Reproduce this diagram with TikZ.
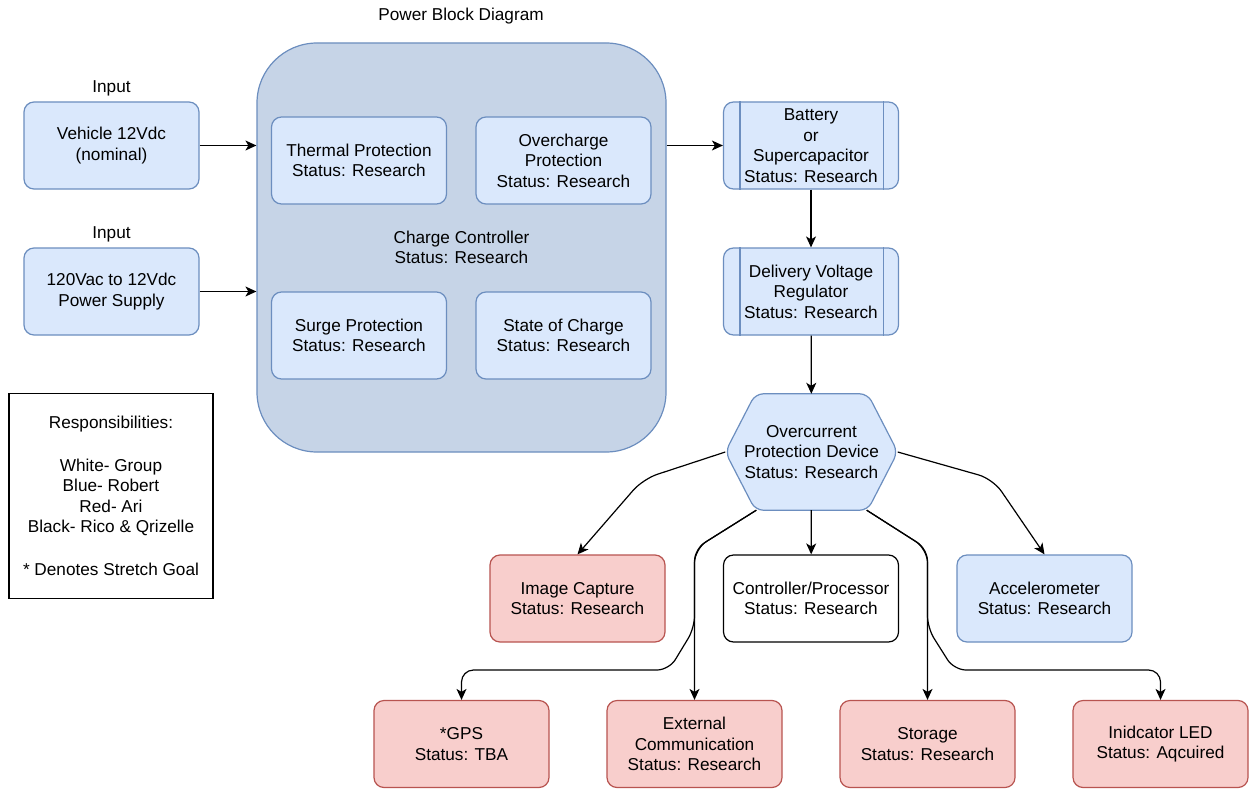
\documentclass[tikz,border=0pt]{standalone}
\usepackage{fontspec}
\setmainfont{Liberation Sans}
\usepackage{xcolor}
\usepackage{tikz}
\usetikzlibrary{arrows.meta,positioning,calc}
\definecolor{BlueFill}{HTML}{DAE8FC}
\definecolor{BlueLine}{HTML}{6C8EBF}
\definecolor{RedFill}{HTML}{F8CECC}
\definecolor{RedLine}{HTML}{B85450}
\definecolor{CtrlFill}{HTML}{C6D4E7}

\begin{document}
\begin{tikzpicture}[
  x=1pt, y=-1pt,
  font=\fontsize{17.2}{20.5}\selectfont,
  blk/.style={draw=BlueLine, fill=BlueFill, rounded corners=10pt, align=center, line width=1.2pt,
    minimum width=175pt, minimum height=87pt, inner sep=0pt},
  redblk/.style={blk, draw=RedLine, fill=RedFill},
  whiteblk/.style={blk, draw=black, fill=white},
  lbl/.style={align=center, inner sep=0pt},
  arrow/.style={-{Stealth[length=11pt,width=10pt,inset=3pt]}, line width=1.2pt}
]
\fill[white] (0,0) rectangle (1257,789);
\useasboundingbox (0,0) rectangle (1257,789);

\node[lbl] (title) at (461,16) {Power Block Diagram};

\node[lbl] (in1) at (111.5,88) {Input};
\node[blk] (vehicle) at (111.5,145.5) {Vehicle 12Vdc\\(nominal)};
\node[lbl] (in2) at (111.5,234) {Input};
\node[blk] (supply) at (111.5,291.5) {120Vac to 12Vdc\\Power Supply};

\node[blk, fill=CtrlFill, rounded corners=60pt, minimum width=409pt, minimum height=409pt]
  (cc) at (461.5,247.5) {Charge Controller\\Status: Research};
\node[blk] (thermal) at (359,160.5) {Thermal Protection\\Status: Research};
\node[blk] (overchg) at (563.5,160.5) {Overcharge\\Protection\\Status: Research};
\node[blk] (surge) at (359,335.5) {Surge Protection\\Status: Research};
\node[blk] (soc) at (563.5,335.5) {State of Charge\\Status: Research};

\node[blk] (batt) at (811,145.5) {Battery\\or\\Supercapacitor\\Status: Research};
\node[blk] (dvr) at (811,291.5) {Delivery Voltage\\Regulator\\Status: Research};
\draw[BlueLine, line width=1.2pt] ([xshift=17pt]batt.north west) -- ([xshift=17pt]batt.south west);
\draw[BlueLine, line width=1.2pt] ([xshift=-16pt]batt.north east) -- ([xshift=-16pt]batt.south east);
\draw[BlueLine, line width=1.2pt] ([xshift=17pt]dvr.north west) -- ([xshift=17pt]dvr.south west);
\draw[BlueLine, line width=1.2pt] ([xshift=-16pt]dvr.north east) -- ([xshift=-16pt]dvr.south east);

\node[lbl, minimum width=172pt, minimum height=116pt] (ocp) at (811.5,452) {};
\filldraw[draw=BlueLine, fill=BlueFill, line width=1.2pt, rounded corners=8pt]
  (ocp.west) -- ($(ocp.north west)+(30,0)$) -- ($(ocp.north east)+(-30,0)$) -- (ocp.east)
  -- ($(ocp.south east)+(-30,0)$) -- ($(ocp.south west)+(30,0)$) -- cycle;
\node[lbl] (ocptext) at (ocp) {Overcurrent\\Protection Device\\Status: Research};

\node[redblk] (img) at (577.5,598.5) {Image Capture\\Status: Research};
\node[whiteblk] (ctrl) at (811,598.5) {Controller/Processor\\Status: Research};
\node[blk] (acc) at (1044.5,598.5) {Accelerometer\\Status: Research};
\node[redblk] (gps) at (461.5,744) {*GPS\\Status: TBA};
\node[redblk] (ext) at (694.5,744) {External\\Communication\\Status: Research};
\node[redblk] (sto) at (927.5,744) {Storage\\Status: Research};
\node[redblk] (led) at (1160.5,744) {Inidcator LED\\Status: Aqcuired};

\node[draw=black, fill=white, line width=1.2pt, align=center, minimum width=204pt, minimum height=205pt, inner sep=0pt]
  (legend) at (111,496) {Responsibilities:\\[22pt]White- Group\\Blue- Robert\\Red- Ari\\Black- Rico \& Qrizelle\\[22pt]* Denotes Stretch Goal};

\draw[arrow] (vehicle) -- (vehicle -| cc.west);
\draw[arrow] (supply) -- (supply -| cc.west);
\draw[arrow] (batt -| cc.east) -- (batt);
\draw[arrow] (batt) -- (dvr);
\draw[arrow] (dvr) -- (ocp);
\draw[arrow] (ocp) -- (ctrl);
\draw[arrow, rounded corners=15pt] (ocp.west) -- (643,479) -- (img.north);
\draw[arrow, rounded corners=15pt] (ocp.east) -- (993,479) -- (acc.north);
\draw[arrow, rounded corners=14pt] ($(ocp.south west)+(31,0)$) -- (694.5,549) -- (ext.north);
\draw[arrow, rounded corners=12pt] ($(ocp.south west)+(31,0)$) -- (694.5,549) -- (694.5,628) -- (669,670) -- (461.5,670) -- (gps.north);
\draw[arrow, rounded corners=14pt] ($(ocp.south east)+(-31,0)$) -- (927.5,549) -- (sto.north);
\draw[arrow, rounded corners=12pt] ($(ocp.south east)+(-31,0)$) -- (927.5,549) -- (927.5,628) -- (954,670) -- (1160.5,670) -- (led.north);
\end{tikzpicture}
\end{document}
